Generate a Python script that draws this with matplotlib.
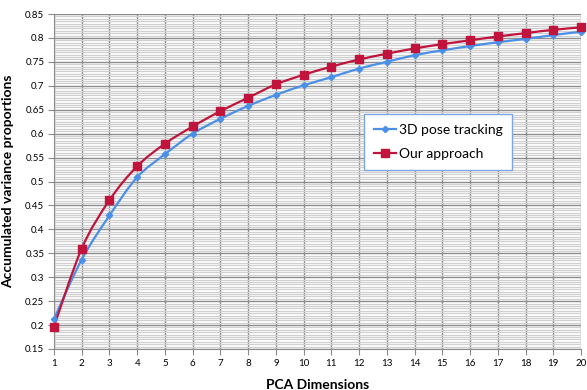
import matplotlib
matplotlib.use("Agg")
import matplotlib.pyplot as plt
from matplotlib.path import Path
from matplotlib.patches import PathPatch
from matplotlib.ticker import MultipleLocator

plt.rcParams['font.family'] = ['Lato', 'DejaVu Sans']

dims = list(range(1, 21))
pose_tracking = [0.213, 0.337, 0.429, 0.509, 0.557, 0.600, 0.631, 0.658, 0.681, 0.701,
                 0.718, 0.736, 0.750, 0.764, 0.774, 0.783, 0.791, 0.798, 0.806, 0.813]
our_approach = [0.197, 0.360, 0.461, 0.532, 0.579, 0.615, 0.647, 0.675, 0.703, 0.723,
                0.740, 0.755, 0.767, 0.778, 0.787, 0.795, 0.803, 0.810, 0.817, 0.822]

BLUE = "#4A90E8"
RED = "#C0143C"


def smooth_path(xs, ys):
    # Excel style smoothed line: catmull-rom segments as cubic beziers
    pts = list(zip(xs, ys))
    verts = [pts[0]]
    codes = [Path.MOVETO]
    n = len(pts)
    for i in range(n - 1):
        p0 = pts[max(i - 1, 0)]
        p1 = pts[i]
        p2 = pts[i + 1]
        p3 = pts[min(i + 2, n - 1)]
        c1 = (p1[0] + (p2[0] - p0[0]) / 6, p1[1] + (p2[1] - p0[1]) / 6)
        c2 = (p2[0] - (p3[0] - p1[0]) / 6, p2[1] - (p3[1] - p1[1]) / 6)
        verts += [c1, c2, p2]
        codes += [Path.CURVE4] * 3
    return Path(verts, codes)


fig = plt.figure(figsize=(5.87, 3.9), dpi=100)
ax = fig.add_axes([54 / 587, 41 / 390, 527 / 587, 335 / 390])

for ys, color, marker, ms, label in [
    (pose_tracking, BLUE, "D", 3.2, "3D pose tracking"),
    (our_approach, RED, "s", 5.5, "Our approach"),
]:
    ax.add_patch(PathPatch(smooth_path(dims, ys), fill=False, edgecolor=color,
                           lw=1.6, zorder=3, clip_on=False))
    ax.plot(dims, ys, linestyle="none", marker=marker, ms=ms, color=color,
            zorder=4, clip_on=False)
    ax.plot([], [], color=color, lw=1.6, marker=marker, ms=ms, label=label)

ax.set_xlim(1, 20)
ax.set_ylim(0.15, 0.85)
ax.set_xticks(dims)
ax.yaxis.set_major_locator(MultipleLocator(0.05))
ax.yaxis.set_minor_locator(MultipleLocator(0.005))
ax.set_yticklabels([("%.2f" % v).rstrip("0").rstrip(".") if v < 0.9 else "" for v in ax.get_yticks()])

ax.grid(axis="y", which="minor", color="#D0D0D0", lw=0.9)
ax.grid(axis="y", which="major", color="#8C8C8C", lw=1.0)
ax.grid(axis="x", which="major", color="#8C8C8C", lw=1.0)
ax.set_axisbelow(True)

for side in ["top", "right"]:
    ax.spines[side].set_visible(False)
for side in ["left", "bottom"]:
    ax.spines[side].set_color("#8C8C8C")
ax.tick_params(which="major", length=4, color="#8C8C8C", labelsize=7, pad=3)
ax.tick_params(which="minor", length=0)

ax.set_xlabel("PCA Dimensions", fontsize=10, fontweight="bold", labelpad=8)
ax.set_ylabel("Accumulated variance proportions", fontsize=10, fontweight="bold", labelpad=8)

leg = ax.legend(loc="upper left", bbox_to_anchor=(303 / 527, (349 - 107) / 335),
                fontsize=10, frameon=True, fancybox=False, handlelength=1.6,
                handletextpad=0.2, borderpad=0.7, labelspacing=0.9)
leg.get_frame().set_edgecolor("#7EA6E0")
leg.get_frame().set_linewidth(1.0)
leg.get_frame().set_alpha(1)

fig.savefig("out.png", dpi=100)
